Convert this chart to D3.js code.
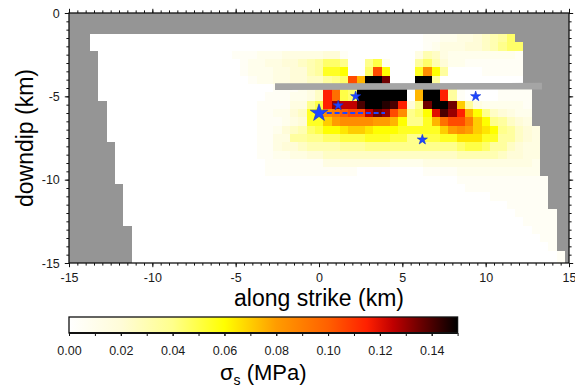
<!DOCTYPE html>
<html>
<head>
<meta charset="utf-8">
<script src="https://cdn.jsdelivr.net/npm/d3@7"></script>
<style>
  body { margin: 0; background: #fff; }
  svg { display: block; }
  text { font-family: "Liberation Sans", Arial, Helvetica, sans-serif; }
</style>
</head>
<body>
<svg id="chart" width="575" height="388"></svg>
<script>
// ---- grid: cell centres along strike (km) and down dip (km, positive down) ----
const strikeCenters = d3.range(-5, 14.51, 0.5);            // 40 columns
const depthRows = [1.5, 2, 2.5, 3, 3.5, 4, 4.5, 5, 5.5, 6, 6.5, 7, 7.5, 8, 8.5,
                   9, 9.5, 10, 10.5, 11, 11.5, 12, 12.5, 13, 13.5, 14, 14.5, 15];

// extent of the modelled fault surface in each row (km along strike)
const rowLeft  = [-13.75, -13.75, -13.25, -13.25, -13.25, -13.25, -13.25, -13.25,
                  -12.75, -12.75, -12.75, -12.75, -12.75, -12.25, -12.25, -12.25,
                  -12.25, -12.25, -11.75, -11.75, -11.75, -11.75, -11.75, -11.25,
                  -11.25, -11.25, -11.25, -11.25];
const rowRight = [11.75, 12.25, 12.25, 12.25, 12.25, 12.25, 12.75, 12.75, 12.75,
                  12.75, 12.75, 13.25, 13.25, 13.25, 13.25, 13.25, 13.25, 13.75,
                  13.75, 13.75, 13.75, 14.25, 14.25, 14.25, 14.25, 14.25, 14.75, 14.75];

// stress per cell, one character per cell: index in levelChars x 0.005 MPa
const levelChars = "0123456789abcdefghijklmnopqrstu";
const stressRows = [
  "0000000000 0000000000 0001122334 5679000000",
  "0000000000 0000000000 0001233344 5689900000",
  "1112223333 3441000000 0036532222 2222100000",
  "0122334456 7998008a20 0079642211 1111100000",
  "0122233446 7bbc009lc0 00bhc70000 1111100000",
  "0012233445 5789lfuur0 00uu700000 0000000000",
  "0000011123 5nja9uuuuu u0fuun7100 0011110000",
  "0000111223 5nja9uuuuu u0fuun7100 0011110000",
  "0001111338 anqppsuuts n48ruure73 2222210000",
  "000112245b chikllprql h89cosqnfc 8543220000",
  "000111234b beghhhhggf c88bfjllie c875430000",
  "0001124569 accdeedccc bbbbbeghge dc87543000",
  "0001133778 899aaabbba a88aabbddd bb77543000",
  "0001134456 6667778888 88888889aa 9775433000",
  "0001122334 4555555555 5555555666 6654433000",
  "0000111111 1333333332 2223333333 3333332000",
  "0000111111 1111100000 0001111222 2222222000",
  "0000000000 0000000000 0000000111 1111111100",
  "0000000000 0000000000 0000000011 1111111100",
  "0000000000 0000000000 0000000000 0111111100",
  "0000000000 0000000000 0000000000 0001111100",
  "0000000000 0000000000 0000000000 0000111110",
  "0000000000 0000000000 0000000000 0000011110",
  "0000000000 0000000000 0000000000 0000001110",
  "0000000000 0000000000 0000000000 0000000110",
  "0000000000 0000000000 0000000000 0000000010",
  "0000000000 0000000000 0000000000 0000000001",
  "0000000000 0000000000 0000000000 0000000001"
];

// colour table for shear stress (MPa)
const stressStops  = [0, 0.02, 0.04, 0.06, 0.08, 0.10, 0.115, 0.125, 0.135, 0.15];
const stressColors = ["#ffffff", "#fffcd8", "#ffff8c", "#ffff00", "#ff9c00",
                      "#ff6000", "#ff2000", "#c00000", "#700000", "#000000"];

// earthquakes (km along strike, km down dip) and the main-shock rupture trace
const quakeX    = [0, 1.15, 2.2, 9.4, 6.2];
const quakeY    = [-6, -5.55, -5.0, -5.0, -7.6];
const quakeKind = ["main", "after", "after", "after", "after"];
const ruptureX  = [0, 3.96];
const ruptureY  = [-6, -6];

// shallow gray band across the fault
const bandX = [-2.64, 13.38];
const bandY = [-4.42, -4.39];

// ticks
const xMajor  = [-15, -10, -5, 0, 5, 10, 15];
const yMajor  = [0, -5, -10, -15];
const cbMajor = [0, 0.02, 0.04, 0.06, 0.08, 0.10, 0.12, 0.14];

// ---------------------------------------------------------------------------
const svg = d3.select("#chart");
const x = d3.scaleLinear().domain([-15, 15]).range([69, 569]);
const y = d3.scaleLinear().domain([0, -15]).range([13, 263]);
const color = d3.scaleLinear().domain(stressStops).range(stressColors).clamp(true);

const defs = svg.append("defs");
defs.append("clipPath").attr("id", "plotClip").append("rect")
  .attr("x", x(-15)).attr("y", y(0))
  .attr("width", x(15) - x(-15)).attr("height", y(-15) - y(0));

const plot = svg.append("g").attr("clip-path", "url(#plotClip)");

// area outside the model
plot.append("rect")
  .attr("x", x(-15)).attr("y", y(0))
  .attr("width", x(15) - x(-15)).attr("height", y(-15) - y(0))
  .attr("fill", "#959595");

// model surface
plot.append("g").attr("shape-rendering", "crispEdges")
  .selectAll("rect").data(depthRows).join("rect")
  .attr("x", (d, r) => x(rowLeft[r]))
  .attr("y", d => y(-(d - 0.25)))
  .attr("width", (d, r) => x(rowRight[r]) - x(rowLeft[r]))
  .attr("height", d => y(-(d + 0.25)) - y(-(d - 0.25)))
  .attr("fill", "#ffffff");

// stress cells
const cells = [];
stressRows.forEach((row, r) => {
  const s = row.replace(/\s+/g, "");
  strikeCenters.forEach((c, i) => {
    const v = Math.max(0, levelChars.indexOf(s[i] || "0")) * 0.005;
    if (v > 0 && c - 0.25 >= rowLeft[r] - 1e-9 && c + 0.25 <= rowRight[r] + 1e-9) {
      cells.push({ c: c, d: depthRows[r], v: v });
    }
  });
});
plot.append("g").attr("shape-rendering", "crispEdges")
  .selectAll("rect").data(cells).join("rect")
  .attr("x", d => x(d.c - 0.25))
  .attr("y", d => y(-(d.d - 0.25)))
  .attr("width", d => x(d.c + 0.25) - x(d.c - 0.25))
  .attr("height", d => y(-(d.d + 0.25)) - y(-(d.d - 0.25)))
  .attr("fill", d => color(d.v));

// gray band
plot.append("line")
  .attr("x1", x(bandX[0])).attr("y1", y(bandY[0]))
  .attr("x2", x(bandX[1])).attr("y2", y(bandY[1]))
  .attr("stroke", "#a5a5a5").attr("stroke-width", 6.6).attr("stroke-linecap", "butt");

// rupture trace
plot.append("line")
  .attr("x1", x(ruptureX[0])).attr("y1", y(ruptureY[0]))
  .attr("x2", x(ruptureX[1])).attr("y2", y(ruptureY[1]))
  .attr("stroke", "#1e46ff").attr("stroke-width", 2).attr("stroke-dasharray", "5,2.8");

// earthquakes
const star = d3.symbol().type(d3.symbolStar);
plot.selectAll("path.quake").data(quakeX).join("path")
  .attr("class", "quake")
  .attr("transform", (d, i) => `translate(${x(quakeX[i])},${y(quakeY[i])})`)
  .attr("d", (d, i) => star.size(quakeKind[i] === "main" ? 95 : 32)())
  .attr("fill", "#1e46ff").attr("stroke", "#0c2fd6").attr("stroke-width", 0.6);

// frame and ticks
const fontSize = "12.5px";
function styleAxis(g) {
  g.select(".domain").remove();
  g.selectAll("line").attr("stroke", "#111").attr("stroke-width", 1);
  g.selectAll("text").attr("font-size", fontSize).attr("fill", "#1a1a1a")
    .attr("font-family", "Liberation Sans, Arial, sans-serif");
}
const minorX = d3.range(-15, 15.01, 0.5);
const minorY = d3.range(0, -15.01, -0.5);
const fmt = d => String(d);

svg.append("g").attr("transform", `translate(0,${y(-15)})`)
  .call(d3.axisBottom(x).tickValues(minorX).tickSize(2.6).tickFormat("")).call(styleAxis);
svg.append("g").attr("transform", `translate(0,${y(-15)})`)
  .call(d3.axisBottom(x).tickValues(xMajor).tickSize(4.2).tickPadding(6).tickFormat(fmt)).call(styleAxis);
svg.append("g").attr("transform", `translate(0,${y(0)})`)
  .call(d3.axisTop(x).tickValues(minorX).tickSize(2.6).tickFormat("")).call(styleAxis);
svg.append("g").attr("transform", `translate(0,${y(0)})`)
  .call(d3.axisTop(x).tickValues(xMajor).tickSize(4.2).tickFormat("")).call(styleAxis);
svg.append("g").attr("transform", `translate(${x(-15)},0)`)
  .call(d3.axisLeft(y).tickValues(minorY).tickSize(2.6).tickFormat("")).call(styleAxis);
svg.append("g").attr("transform", `translate(${x(-15)},0)`)
  .call(d3.axisLeft(y).tickValues(yMajor).tickSize(4.2).tickPadding(5).tickFormat(fmt)).call(styleAxis);
svg.append("g").attr("transform", `translate(${x(15)},0)`)
  .call(d3.axisRight(y).tickValues(minorY).tickSize(2.6).tickFormat("")).call(styleAxis);
svg.append("g").attr("transform", `translate(${x(15)},0)`)
  .call(d3.axisRight(y).tickValues(yMajor).tickSize(4.2).tickFormat("")).call(styleAxis);

svg.append("rect")
  .attr("x", x(-15)).attr("y", y(0))
  .attr("width", x(15) - x(-15)).attr("height", y(-15) - y(0))
  .attr("fill", "none").attr("stroke", "#111").attr("stroke-width", 1.3);

// axis titles
svg.append("text").attr("x", (x(-15) + x(15)) / 2).attr("y", 306)
  .attr("text-anchor", "middle").attr("font-size", "23px").attr("fill", "#000")
  .text("along strike (km)");
svg.append("text")
  .attr("transform", `translate(33,${(y(0) + y(-15)) / 2}) rotate(-90)`)
  .attr("text-anchor", "middle").attr("font-size", "23px").attr("fill", "#000")
  .text("downdip (km)");

// colour bar
const cbx = d3.scaleLinear().domain([0, 0.15]).range([69, 457.6]);
const grad = defs.append("linearGradient").attr("id", "stressGrad")
  .attr("x1", "0%").attr("x2", "100%").attr("y1", "0%").attr("y2", "0%");
grad.selectAll("stop").data(stressStops).join("stop")
  .attr("offset", d => (d / 0.15 * 100) + "%")
  .attr("stop-color", (d, i) => stressColors[i]);

const cbTop = 317, cbH = 16;
svg.append("rect").attr("x", cbx(0)).attr("y", cbTop)
  .attr("width", cbx(0.15) - cbx(0)).attr("height", cbH)
  .attr("fill", "url(#stressGrad)").attr("stroke", "#111").attr("stroke-width", 1.3);
svg.append("line").attr("x1", cbx(0)).attr("x2", cbx(0.15))
  .attr("y1", cbTop + cbH).attr("y2", cbTop + cbH)
  .attr("stroke", "#111").attr("stroke-width", 2);

const cbMinor = d3.range(0, 0.1501, 0.01);
svg.append("g").attr("transform", `translate(0,${cbTop + cbH})`)
  .call(d3.axisBottom(cbx).tickValues(cbMinor).tickSize(3).tickFormat("")).call(styleAxis);
svg.append("g").attr("transform", `translate(0,${cbTop + cbH})`)
  .call(d3.axisBottom(cbx).tickValues(cbMajor).tickSize(3).tickPadding(10.5)
    .tickFormat(d => d.toFixed(2))).call(styleAxis)
  .selectAll("text").attr("font-size", "12.5px");

const cbLabel = svg.append("text").attr("x", (cbx(0) + cbx(0.15)) / 2).attr("y", 380)
  .attr("text-anchor", "middle").attr("font-size", "22px").attr("fill", "#000");
cbLabel.append("tspan").text("σ");
cbLabel.append("tspan").attr("font-size", "14px").attr("dy", 5).text("s");
cbLabel.append("tspan").attr("dy", -5).text(" (MPa)");
</script>
</body>
</html>
